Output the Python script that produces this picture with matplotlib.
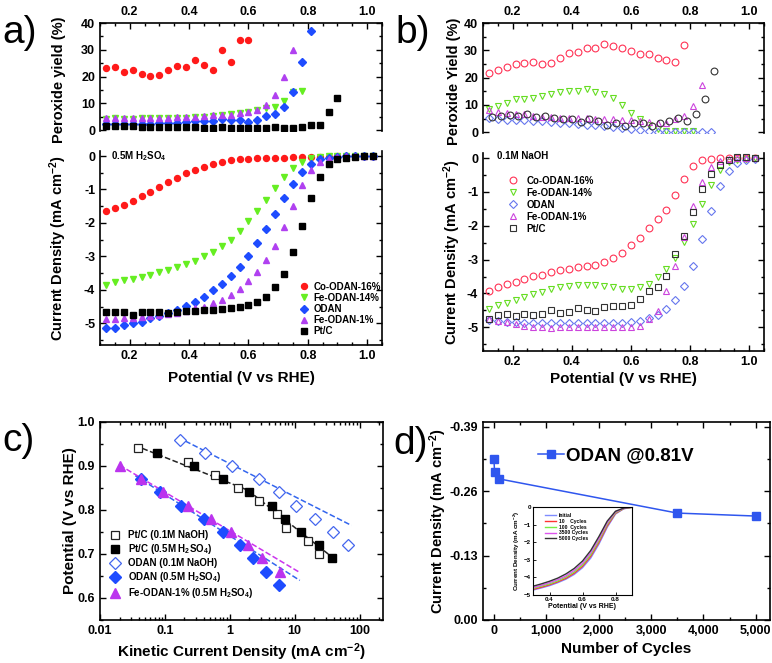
import numpy as np
import matplotlib
matplotlib.use('Agg')
import matplotlib.pyplot as plt
from matplotlib.ticker import MultipleLocator, LogLocator, NullFormatter, FuncFormatter, FixedLocator

plt.rcParams['font.family'] = 'Liberation Sans'
plt.rcParams['font.weight'] = 'bold'
plt.rcParams['axes.labelweight'] = 'bold'
plt.rcParams['mathtext.fontset'] = 'custom'
plt.rcParams['mathtext.rm'] = 'Liberation Sans:bold'
plt.rcParams['mathtext.default'] = 'rm'

# ---- panel a / b potential grid (V vs RHE)
v_grid = [0.12, 0.15, 0.18, 0.21, 0.24, 0.27, 0.30, 0.33, 0.36, 0.39, 0.42, 0.45, 0.48,
          0.51, 0.54, 0.57, 0.60, 0.63, 0.66, 0.69, 0.72, 0.75, 0.78, 0.81, 0.84, 0.87,
          0.90, 0.93, 0.96, 0.99, 1.02]
v_pt_b_top = [0.13, 0.16, 0.19, 0.22, 0.25, 0.28, 0.31, 0.34, 0.37, 0.40, 0.43, 0.46, 0.49,
              0.52, 0.55, 0.58, 0.61, 0.64, 0.67, 0.70, 0.73, 0.76, 0.79, 0.82, 0.85, 0.88]
labels_ab = ['Co-ODAN-16%', 'Fe-ODAN-14%', 'ODAN', 'Fe-ODAN-1%', 'Pt/C']

# a) peroxide yield, 0.5M H2SO4
a_top_co16 = [23.3, 23.5, 21.6, 22.4, 20.8, 20.4, 20.7, 22.5, 23.9, 23.6, 26.1, 24.2, 22.4, 29.9, 25.4, 33.8, 33.6]
a_top_fe14 = [4.3, 4.4, 4.3, 4.3, 4.4, 4.4, 4.4, 4.5, 4.7, 4.7, 4.8, 5.1, 5.3, 5.6, 6.1, 6.4, 6.9, 7.6, 8.1, 8.8, 10.8, 14.3, 14.8]
a_top_odan = [2.2, 2.3, 2.3, 2.2, 2.3, 2.4, 2.5, 2.6, 2.8, 3.0, 3.3, 3.3, 3.4, 4.0, 3.9, 3.7, 3.2, 3.8, 5.2, 6.1, 8.7, 14.3, 25.6, 37.2]
a_top_fe1 = [4.5, 4.6, 4.5, 4.5, 4.6, 4.5, 4.5, 4.6, 4.9, 4.8, 4.9, 5.2, 5.5, 5.6, 5.6, 6.3, 6.7, 7.5, 9.4, 13.3, 19.9, 29.8]
a_top_pt = [1.6, 1.6, 1.4, 1.5, 1.3, 1.2, 1.2, 1.2, 1.2, 1.1, 1.2, 1.0, 1.0, 1.1, 1.0, 1.0, 1.0, 1.0, 0.8, 1.1, 0.9, 0.8, 1.3, 2.0, 1.8, 6.8, 12.2]

# a) current density
a_co16 = [-1.65, -1.55, -1.45, -1.33, -1.2, -1.07, -0.93, -0.79, -0.65, -0.52, -0.41, -0.32, -0.24, -0.18, -0.13,
          -0.1, -0.08, -0.07, -0.06, -0.05, -0.05, -0.04, -0.04, -0.03, -0.02, -0.02, -0.01, -0.01, 0, 0, 0]
a_fe14 = [-3.85, -3.78, -3.72, -3.67, -3.62, -3.55, -3.48, -3.42, -3.33, -3.24, -3.13, -3.0, -2.87, -2.7, -2.5,
          -2.25, -1.95, -1.65, -1.3, -0.95, -0.63, -0.37, -0.17, -0.07, -0.03, -0.01, 0, 0, 0, 0, 0]
a_odan = [-5.15, -5.13, -5.06, -5.0, -4.95, -4.85, -4.78, -4.7, -4.6, -4.48, -4.35, -4.2, -4.02, -3.83, -3.6,
          -3.32, -2.98, -2.6, -2.18, -1.73, -1.27, -0.83, -0.48, -0.25, -0.1, -0.05, -0.02, 0, 0, 0, 0]
a_fe1 = [-4.88, -4.87, -4.85, -4.83, -4.8, -4.78, -4.75, -4.72, -4.68, -4.62, -4.55, -4.5, -4.4, -4.3, -4.15,
         -3.98, -3.75, -3.48, -3.12, -2.68, -2.13, -1.5, -0.87, -0.42, -0.18, -0.08, -0.03, -0.01, 0, 0, 0]
a_pt = [-4.65, -4.66, -4.65, -4.75, -4.65, -4.65, -4.65, -4.7, -4.65, -4.63, -4.62, -4.6, -4.6, -4.58, -4.55,
        -4.5, -4.45, -4.35, -4.2, -3.92, -3.52, -2.87, -2.08, -1.25, -0.62, -0.25, -0.1, -0.05, -0.02, 0, 0]

# b) peroxide yield, 0.1M NaOH
b_top_co16 = [21.6, 22.7, 23.7, 24.8, 25.2, 25.8, 24.9, 25.2, 27.0, 29.0, 29.2, 31.0, 31.0, 32.3, 31.7, 30.7,
              29.6, 28.6, 28.6, 27.0, 26.5, 25.8, 32.0]
b_top_fe14 = [8.6, 9.6, 10.6, 12.0, 12.3, 12.6, 13.3, 14.1, 14.8, 15.1, 15.1, 15.7, 14.7, 14.1, 12.4, 9.8,
              7.1, 5.0, 2.8, 1.0, 0.5, 0.5, 0.5, 0.5]
b_top_odan = [5.3, 4.9, 4.5, 4.5, 4.4, 4.2, 4.0, 3.6, 3.4, 3.2, 3.0, 2.8, 2.6, 2.2, 1.8, 1.6, 1.2, 0.7, 0.4,
              0.2, 0.1, 0.1, 0.1, 0.1, 0.1, 0.1]
b_top_fe1 = [8.0, 7.5, 7.1, 6.7, 6.5, 5.9, 5.6, 5.6, 5.3, 5.3, 5.2, 5.3, 4.9, 4.9, 4.7, 4.4, 4.4, 4.0, 3.7,
             3.4, 3.4, 4.7, 5.9, 9.6, 17.3]
b_top_pt = [5.6, 5.9, 6.4, 5.9, 6.5, 5.5, 5.9, 5.3, 4.7, 4.9, 3.7, 4.7, 4.0, 2.8, 3.2, 2.2, 3.4, 3.2, 2.2,
            3.2, 4.0, 5.3, 4.0, 6.7, 12.3, 22.4]

# b) current density
b_co16 = [-3.92, -3.82, -3.73, -3.65, -3.57, -3.49, -3.45, -3.37, -3.31, -3.27, -3.23, -3.2, -3.15, -3.06, -2.96,
          -2.81, -2.58, -2.35, -2.08, -1.81, -1.52, -1.08, -0.61, -0.24, -0.07, -0.02, -0.01, 0, 0, 0, 0]
b_fe14 = [-4.46, -4.33, -4.27, -4.19, -4.09, -4.01, -3.96, -3.88, -3.82, -3.78, -3.75, -3.75, -3.75, -3.77, -3.8,
          -3.87, -3.87, -3.82, -3.72, -3.52, -3.27, -2.95, -2.48, -1.96, -1.35, -0.81, -0.36, -0.12, -0.05, -0.02, 0]
b_odan = [-4.78, -4.8, -4.83, -4.85, -4.87, -4.88, -4.88, -4.88, -4.88, -4.88, -4.87, -4.88, -4.88, -4.87, -4.88,
          -4.86, -4.84, -4.8, -4.73, -4.63, -4.46, -4.2, -3.79, -3.18, -2.39, -1.55, -0.83, -0.38, -0.14, -0.06, -0.02]
b_fe1 = [-4.76, -4.82, -4.85, -4.9, -4.95, -4.98, -5.0, -5.02, -5.0, -5.0, -4.98, -4.98, -5.0, -5.0, -5.0,
         -5.0, -5.0, -4.95, -4.75, -4.51, -3.92, -3.18, -2.32, -1.43, -0.71, -0.27, -0.09, -0.03, -0.01, 0, 0]
b_pt = [-4.75, -4.63, -4.6, -4.67, -4.6, -4.63, -4.6, -4.49, -4.57, -4.54, -4.43, -4.48, -4.53, -4.39, -4.38,
        -4.38, -4.34, -4.16, -3.94, -3.8, -3.47, -2.83, -2.3, -1.58, -0.91, -0.46, -0.2, -0.05, 0.03, 0.03, 0.01]

# c) Tafel plot: kinetic current (mA cm-2) vs potential
c_pt_naoh_j = [0.038, 0.23, 0.59, 1.33, 2.86, 5.3, 7.3, 15.9, 24]
c_pt_naoh_e = [0.94, 0.91, 0.88, 0.85, 0.82, 0.79, 0.76, 0.73, 0.70]
c_pt_acid_j = [0.075, 0.28, 0.80, 2.0, 4.5, 7.0, 12.5, 24, 38]
c_pt_acid_e = [0.93, 0.90, 0.87, 0.84, 0.81, 0.78, 0.75, 0.72, 0.69]
c_odan_naoh_j = [0.17, 0.42, 1.09, 2.86, 5.8, 10.5, 20.8, 39.4, 67]
c_odan_naoh_e = [0.96, 0.93, 0.90, 0.87, 0.84, 0.81, 0.78, 0.75, 0.72]
c_odan_acid_j = [0.043, 0.083, 0.178, 0.40, 0.80, 1.44, 2.31, 3.6, 5.7]
c_odan_acid_e = [0.87, 0.84, 0.81, 0.78, 0.75, 0.72, 0.69, 0.66, 0.63]
c_fe1_acid_j = [0.0205, 0.043, 0.095, 0.226, 0.52, 1.05, 1.89, 3.14, 5.9]
c_fe1_acid_e = [0.90, 0.87, 0.84, 0.81, 0.78, 0.75, 0.72, 0.69, 0.66]
# dashed Tafel fits (end points)
fit_pt_low = ([0.045, 1.9], [0.94, 0.845])
fit_pt_high = ([1.9, 40], [0.845, 0.69])
fit_odan_naoh = ([0.16, 75], [0.965, 0.765])
fit_odan_acid = ([0.035, 12], [0.878, 0.64])
fit_fe1_acid = ([0.02, 12], [0.902, 0.658])

# d) stability
d_cycles = [0, 10, 100, 3500, 5000]
d_current = [-0.325, -0.299, -0.285, -0.216, -0.21]
inset_v = [0.3, 0.35, 0.4, 0.45, 0.5, 0.55, 0.6, 0.65, 0.7, 0.75, 0.8, 0.85, 0.9]
inset_labels = ['Initial', '10    Cycles', '100  Cycles', '3500 Cycles', '5000 Cycles']
inset_curves = [
    [-4.72, -4.6, -4.47, -4.3, -4.1, -3.83, -3.45, -2.9, -2.1, -1.15, -0.4, -0.1, -0.02],
    [-4.68, -4.56, -4.42, -4.25, -4.05, -3.76, -3.37, -2.8, -2.0, -1.07, -0.36, -0.09, -0.02],
    [-4.63, -4.5, -4.37, -4.2, -3.98, -3.69, -3.29, -2.71, -1.9, -0.98, -0.32, -0.08, -0.02],
    [-4.58, -4.45, -4.3, -4.13, -3.91, -3.6, -3.2, -2.6, -1.8, -0.9, -0.28, -0.07, -0.01],
    [-4.5, -4.37, -4.22, -4.04, -3.8, -3.49, -3.07, -2.47, -1.67, -0.8, -0.24, -0.06, -0.01],
]
inset_colors = ['#7f8cff', '#ff3333', '#77ee44', '#dd55ee', '#333333']

col_a = ['#ff1a1a', '#66ee22', '#1e4cff', '#b040f0', 'black']
col_b = ['#ff3355', '#66dd22', '#6677ee', '#cc44dd', '#333333']
mk = ['o', 'v', 'D', '^', 's']


def style(ax, labelsize=9):
    ax.tick_params(which='both', direction='in', width=1, labelsize=labelsize)
    ax.tick_params(which='major', length=4)
    ax.tick_params(which='minor', length=2)
    for s in ax.spines.values():
        s.set_linewidth(1.2)


fig = plt.figure(figsize=(7.72, 6.63), dpi=100)
W, H = 772.0, 663.0


def box(l, t, r, b):
    return [l / W, 1 - b / H, (r - l) / W, (b - t) / H]


def top_panel(ax, series, xs_list, colors, filled):
    for ys, xs, c, m in zip(series, xs_list, colors, mk):
        ms = 3.6 if m == 'D' else 4.3
        if filled:
            ax.plot(xs[:len(ys)], ys, m, color=c, ms=ms, mec=c)
        else:
            ax.plot(xs[:len(ys)], ys, m, color=c, ms=ms + 0.6, mfc='none', mew=0.8)
    ax.set_xlim(0.1, 1.05)
    ax.set_ylim(-0.3, 40)
    ax.spines['bottom'].set_visible(False)
    style(ax)
    ax.tick_params(axis='x', which='both', bottom=False, labelbottom=False, top=True, labeltop=True)
    ax.tick_params(axis='y', which='both', left=True, right=True)
    ax.xaxis.set_major_locator(MultipleLocator(0.2))
    ax.xaxis.set_minor_locator(MultipleLocator(0.05))
    ax.yaxis.set_major_locator(FixedLocator([0, 10, 20, 30, 40]))
    ax.yaxis.set_minor_locator(FixedLocator([5, 15, 25, 35]))
    ax.xaxis.set_major_formatter(FuncFormatter(lambda v, p: '%.1f' % v))


def bottom_panel(ax, series, colors, filled, ymin):
    for ys, c, m, lab in zip(series, colors, mk, labels_ab):
        ms = 3.6 if m == 'D' else 4.3
        if filled:
            ax.plot(v_grid[:len(ys)], ys, m, color=c, ms=ms, mec=c, label=lab)
        else:
            ax.plot(v_grid[:len(ys)], ys, m, color=c, ms=ms + 0.6, mfc='none', mew=0.8, label=lab)
    ax.set_xlim(0.1, 1.05)
    ax.set_ylim(ymin, 0.15)
    ax.spines['top'].set_visible(False)
    style(ax)
    ax.tick_params(axis='x', which='both', top=False, bottom=True)
    ax.tick_params(axis='y', which='both', left=True, right=True)
    ax.xaxis.set_major_locator(MultipleLocator(0.2))
    ax.xaxis.set_minor_locator(MultipleLocator(0.05))
    ax.yaxis.set_major_locator(FixedLocator([0, -1, -2, -3, -4, -5]))
    ax.yaxis.set_minor_locator(FixedLocator([-0.5, -1.5, -2.5, -3.5, -4.5, -5.5]))
    ax.xaxis.set_major_formatter(FuncFormatter(lambda v, p: '%.1f' % v))
    ax.yaxis.set_major_formatter(FuncFormatter(lambda v, p: '%d' % round(v)))


# ---------------- panel a
ax_at = fig.add_axes(box(100, 23, 382, 131))
top_panel(ax_at, [a_top_co16, a_top_fe14, a_top_odan, a_top_fe1, a_top_pt], [v_grid] * 5, col_a, True)
ax_at.set_ylabel('Peroxide yield (%)', fontsize=10.5)
ax_at.yaxis.set_label_coords(-0.12, 0.47)

ax_ab = fig.add_axes(box(100, 151, 382, 345))
bottom_panel(ax_ab, [a_co16, a_fe14, a_odan, a_fe1, a_pt], col_a, True, -5.65)
ax_ab.set_ylabel('Current Density (mA cm$^{-2}$)', fontsize=10.5)
ax_ab.yaxis.set_label_coords(-0.11, 0.5)
ax_ab.set_xlabel('Potential (V vs RHE)', fontsize=11)
ax_ab.xaxis.set_label_coords(0.5, -0.135)
ax_ab.text(0.04, 0.975, '0.5M H$_2$SO$_4$', transform=ax_ab.transAxes, fontsize=7, va='center')
ax_ab.legend(loc='lower left', bbox_to_anchor=(0.705, 0.045), frameon=False, fontsize=7,
             handlelength=1.0, handletextpad=0.5, labelspacing=0.12, borderpad=0, borderaxespad=0)

# ---------------- panel b
ax_bt = fig.add_axes(box(483, 23, 764, 133))
top_panel(ax_bt, [b_top_co16, b_top_fe14, b_top_odan, b_top_fe1, b_top_pt],
          [v_grid, v_grid, v_grid, v_grid, v_pt_b_top], col_b, False)
ax_bt.lines[-1].set_marker('o')
ax_bt.set_ylabel('Peroxide Yield (%)', fontsize=10.5)
ax_bt.yaxis.set_label_coords(-0.078, 0.47)

ax_bb = fig.add_axes(box(483, 153, 764, 351))
bottom_panel(ax_bb, [b_co16, b_fe14, b_odan, b_fe1, b_pt], col_b, False, -5.7)
ax_bb.set_ylabel('Current Density (mA cm$^{-2}$)', fontsize=10.5)
ax_bb.yaxis.set_label_coords(-0.07, 0.5)
ax_bb.set_xlabel('Potential (V vs RHE)', fontsize=11)
ax_bb.xaxis.set_label_coords(0.5, -0.105)
ax_bb.text(0.05, 0.985, '0.1M NaOH', transform=ax_bb.transAxes, fontsize=7, va='center')
ax_bb.legend(loc='upper left', bbox_to_anchor=(0.088, 0.885), frameon=False, fontsize=7,
             handlelength=1.0, handletextpad=0.9, labelspacing=0.2, borderpad=0, borderaxespad=0)

# ---------------- panel c
ax_c = fig.add_axes(box(100, 422, 383, 620))
ax_c.plot(*fit_pt_low, '--', color='#222222', lw=1.1)
ax_c.plot(*fit_pt_high, '--', color='#222222', lw=1.1)
ax_c.plot(*fit_odan_naoh, '--', color='#3366ee', lw=1.1)
ax_c.plot(*fit_odan_acid, '--', color='#3366ee', lw=1.1)
ax_c.plot(*fit_fe1_acid, '--', color='#cc33ee', lw=1.1)
ax_c.plot(c_pt_naoh_j, c_pt_naoh_e, 's', color='#222222', mfc='white', ms=6, mew=0.9, label='Pt/C (0.1M NaOH)')
ax_c.plot(c_pt_acid_j, c_pt_acid_e, 's', color='black', ms=6, label='Pt/C (0.5M H$_2$SO$_4$)')
ax_c.plot(c_odan_naoh_j, c_odan_naoh_e, 'D', color='#4466ee', mfc='white', ms=6, mew=0.9, label='ODAN (0.1M NaOH)')
ax_c.plot(c_odan_acid_j, c_odan_acid_e, 'D', color='#1e4cff', ms=6, label='ODAN (0.5M H$_2$SO$_4$)')
ax_c.plot(c_fe1_acid_j, c_fe1_acid_e, '^', color='#bb33ee', ms=7, label='Fe-ODAN-1% (0.5M H$_2$SO$_4$)')
ax_c.set_xscale('log')
ax_c.set_xlim(0.01, 230)
ax_c.set_ylim(0.55, 1.0)
style(ax_c)
ax_c.tick_params(which='both', top=True, right=True)
ax_c.xaxis.set_major_locator(FixedLocator([0.01, 0.1, 1, 10, 100]))
ax_c.xaxis.set_minor_locator(LogLocator(base=10, subs=range(2, 10)))
ax_c.xaxis.set_minor_formatter(NullFormatter())
ax_c.xaxis.set_major_formatter(FuncFormatter(lambda v, p: '%g' % v))
ax_c.yaxis.set_major_locator(MultipleLocator(0.1))
ax_c.yaxis.set_minor_locator(MultipleLocator(0.05))
ax_c.yaxis.set_major_formatter(FuncFormatter(lambda v, p: '%.1f' % v))
ax_c.set_ylabel('Potential (V vs RHE)', fontsize=11)
ax_c.yaxis.set_label_coords(-0.08, 0.5)
ax_c.set_xlabel('Kinetic Current Density (mA cm$^{-2}$)', fontsize=11)
ax_c.xaxis.set_label_coords(0.5, -0.108)
handles, labs = ax_c.get_legend_handles_labels()
ax_c.legend(handles, labs, loc='lower left', bbox_to_anchor=(0.035, 0.1), frameon=False, fontsize=7,
            handlelength=1.0, handletextpad=0.9, labelspacing=0.2, borderpad=0, borderaxespad=0)

# ---------------- panel d
ax_d = fig.add_axes(box(483, 422, 770, 620))
ax_d.plot(d_cycles, d_current, '-s', color='#2f56ee', ms=6, lw=1.1, label='ODAN @0.81V')
ax_d.set_xlim(-210, 5270)
ax_d.set_ylim(0, -0.40)
style(ax_d)
ax_d.tick_params(which='both', top=True, right=True)
ax_d.xaxis.set_major_locator(MultipleLocator(1000))
ax_d.xaxis.set_minor_locator(MultipleLocator(500))
ax_d.xaxis.set_major_formatter(FuncFormatter(lambda v, p: '{:,.0f}'.format(v)))
ax_d.yaxis.set_major_locator(FixedLocator([0, -0.13, -0.26, -0.39]))
ax_d.yaxis.set_minor_locator(FixedLocator([-0.065, -0.195, -0.325]))
ax_d.yaxis.set_major_formatter(FuncFormatter(lambda v, p: '%.2f' % v if abs(v) > 1e-9 else '0.00'))
ax_d.set_ylabel('Current Density (mA cm$^{-2}$)', fontsize=10.5)
ax_d.yaxis.set_label_coords(-0.12, 0.5)
ax_d.set_xlabel('Number of Cycles', fontsize=11)
ax_d.xaxis.set_label_coords(0.5, -0.11)
ax_d.legend(loc='center left', bbox_to_anchor=(0.19, 0.83), frameon=False, fontsize=13.5,
            handlelength=1.4, handletextpad=0.1, borderpad=0, borderaxespad=0)

ax_in = fig.add_axes(box(533, 507, 632, 595))
for ys, c, lab in zip(inset_curves, inset_colors, inset_labels):
    ax_in.plot(inset_v, ys, '-', color=c, lw=1.0, label=lab)
ax_in.set_xlim(0.3, 0.9)
ax_in.set_ylim(-5, 0)
style(ax_in, labelsize=4.5)
ax_in.tick_params(which='major', length=2, width=0.6)
ax_in.tick_params(which='minor', length=1, width=0.5)
for s in ax_in.spines.values():
    s.set_linewidth(0.8)
ax_in.xaxis.set_major_locator(FixedLocator([0.4, 0.6, 0.8]))
ax_in.yaxis.set_major_locator(MultipleLocator(1))
ax_in.tick_params(axis='both', pad=1.5)
ax_in.set_xlabel('Potential (V vs RHE)', fontsize=5, labelpad=1)
ax_in.set_ylabel('Current Density (mA cm$^{-2}$)', fontsize=4.5, labelpad=1)
ax_in.legend(loc='upper left', bbox_to_anchor=(0.12, 0.93), frameon=False, fontsize=3.6,
             handlelength=2.2, handletextpad=0.6, labelspacing=0.15, borderpad=0, borderaxespad=0)

# panel letters
fig.text(0.003, 0.95, 'a)', fontsize=28, fontweight='normal', va='center')
fig.text(0.512, 0.95, 'b)', fontsize=28, fontweight='normal', va='center')
fig.text(0.003, 0.335, 'c)', fontsize=28, fontweight='normal', va='center')
fig.text(0.51, 0.33, 'd)', fontsize=28, fontweight='normal', va='center')

fig.savefig('out.png', dpi=100)
